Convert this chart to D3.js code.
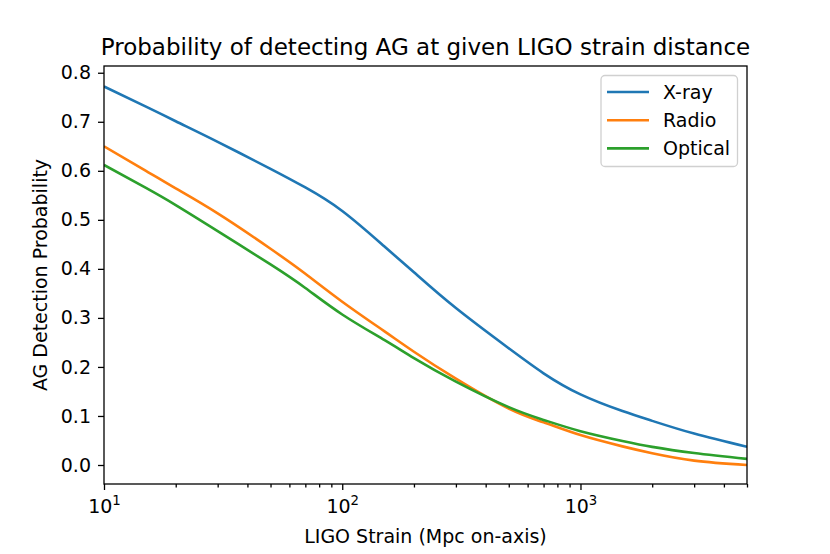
<!DOCTYPE html>
<html lang="en">
    <head>
        <meta charset="utf-8">
        <script type="text/javascript" src="https://cdn.jsdelivr.net/npm/d3@7"></script>
        <style type="text/css">
            body { margin: 0; background: #ffffff; }
            text { font-family: "DejaVu Sans", sans-serif; fill: #000; }
            .tick text { font-size: 19px; }
            .domain { display: none; }
            .tick line { stroke: #000; stroke-width: 1.3px; }
        </style>
    </head>
    <body>
        <script type="text/javascript">
            // distances (Mpc) and detection probabilities
            var distances = [10, 15, 20, 30, 50, 70, 100, 150, 200, 300, 500, 700, 1000, 1500, 2000, 3000, 5000];
            var xray    = [0.772, 0.731, 0.701, 0.659, 0.604, 0.566, 0.518, 0.446, 0.393, 0.320, 0.238, 0.187, 0.144, 0.110, 0.090, 0.064, 0.037];
            var radio   = [0.650, 0.600, 0.564, 0.513, 0.441, 0.390, 0.333, 0.273, 0.231, 0.176, 0.115, 0.087, 0.061, 0.038, 0.024, 0.009, 0.000];
            var optical = [0.612, 0.565, 0.530, 0.477, 0.409, 0.361, 0.307, 0.255, 0.218, 0.170, 0.118, 0.092, 0.069, 0.049, 0.037, 0.0245, 0.0124];
            var seriesNames = ["X-ray", "Radio", "Optical"];
            var seriesColors = ["#1f77b4", "#ff7f0e", "#2ca02c"];
            var yTicks = [0.0, 0.1, 0.2, 0.3, 0.4, 0.5, 0.6, 0.7, 0.8];
            var xMajor = [10, 100, 1000];

            var W = 830, H = 554;
            var margin = {top: 66, right: 83, bottom: 70, left: 104};
            var w = W - margin.left - margin.right,
                h = H - margin.top - margin.bottom;

            var svg = d3.select("body").append("svg")
                .attr("width", W)
                .attr("height", H);

            var g = svg.append("g")
                .attr("transform", "translate(" + margin.left + "," + margin.top + ")");

            var xScale = d3.scaleLog().domain([10, 5000]).range([0, w]);
            var yScale = d3.scaleLinear().domain([-0.03875, 0.81375]).range([h, 0]);

            // minor ticks on the log axis
            var xMinor = [];
            [10, 100, 1000].forEach(function(dec) {
              for (var k = 2; k <= 9; k++) {
                if (k * dec <= 5000) xMinor.push(k * dec);
              }
            });

            // y axis
            g.append("g")
              .call(d3.axisLeft(yScale).tickValues(yTicks).tickFormat(d3.format(".1f"))
                .tickSize(6).tickPadding(7));

            // x axis major ticks
            var xAxisG = g.append("g")
              .attr("transform", "translate(0," + h + ")")
              .call(d3.axisBottom(xScale).tickValues(xMajor).tickFormat("")
                .tickSize(6));

            xAxisG.selectAll(".tick").append("text")
              .attr("y", 29)
              .attr("text-anchor", "middle")
              .style("font-size", "19px")
              .each(function(d) {
                var t = d3.select(this);
                t.append("tspan").text("10");
                t.append("tspan")
                  .attr("dy", "-8")
                  .style("font-size", "13.3px")
                  .text(Math.round(Math.log10(d)));
              });

            // x axis minor ticks
            g.append("g")
              .attr("transform", "translate(0," + h + ")")
              .call(d3.axisBottom(xScale).tickValues(xMinor).tickFormat("").tickSize(3.5));

            // lines (smooth spline through the read points)
            var line = d3.line()
              .x(function(d) { return xScale(d[0]); })
              .y(function(d) { return yScale(d[1]); })
              .curve(d3.curveNatural);

            var allSeries = [xray, radio, optical];
            g.append("defs").append("clipPath").attr("id", "clip")
              .append("rect").attr("width", w).attr("height", h);

            allSeries.forEach(function(vals, i) {
              g.append("path")
                .datum(d3.zip(distances, vals))
                .attr("clip-path", "url(#clip)")
                .attr("fill", "none")
                .attr("stroke", seriesColors[i])
                .attr("stroke-width", 2.6)
                .attr("d", line);
            });

            // frame
            g.append("rect")
              .attr("width", w)
              .attr("height", h)
              .attr("fill", "none")
              .attr("stroke", "#000")
              .attr("stroke-width", 1.3);

            // legend
            var legend = g.append("g")
              .attr("transform", "translate(" + (w - 146) + ",9.5)");
            legend.append("rect")
              .attr("width", 136.5)
              .attr("height", 91)
              .attr("rx", 4)
              .attr("fill", "#fff")
              .attr("fill-opacity", 0.8)
              .attr("stroke", "#d0d0d0")
              .attr("stroke-width", 1.3);
            seriesNames.forEach(function(name, i) {
              var yy = 16.5 + i * 28.2;
              legend.append("line")
                .attr("x1", 6).attr("x2", 48)
                .attr("y1", yy).attr("y2", yy)
                .attr("stroke", seriesColors[i])
                .attr("stroke-width", 2.6);
              legend.append("text")
                .attr("x", 62)
                .attr("y", yy + 7)
                .style("font-size", "19px")
                .text(name);
            });

            // title and axis labels
            svg.append("text")
              .attr("x", margin.left + w / 2)
              .attr("y", 55)
              .attr("text-anchor", "middle")
              .style("font-size", "23px")
              .text("Probability of detecting AG at given LIGO strain distance");

            svg.append("text")
              .attr("x", margin.left + w / 2)
              .attr("y", 543)
              .attr("text-anchor", "middle")
              .style("font-size", "19px")
              .text("LIGO Strain (Mpc on-axis)");

            svg.append("text")
              .attr("transform", "translate(47," + (margin.top + h / 2) + ") rotate(-90)")
              .attr("text-anchor", "middle")
              .style("font-size", "19px")
              .text("AG Detection Probability");
        </script>
    </body>
</html>
